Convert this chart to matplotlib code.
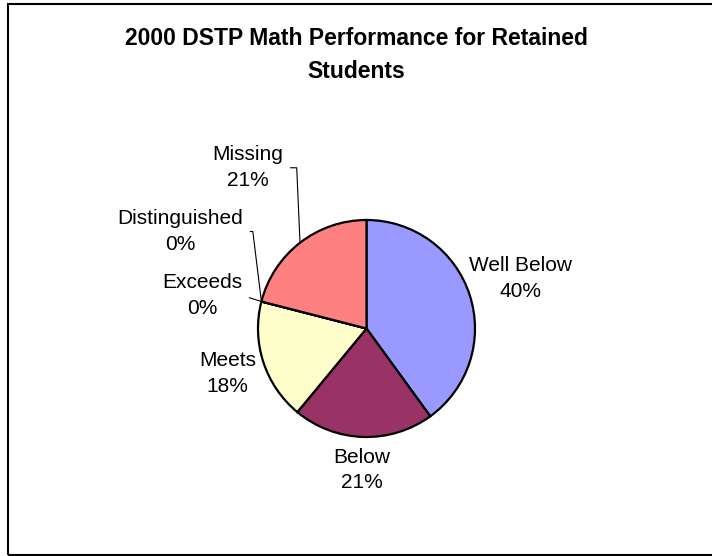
import numpy as np
import matplotlib
matplotlib.use('Agg')
import matplotlib.pyplot as plt
from matplotlib.patches import Rectangle

plt.rcParams['font.family'] = ['Liberation Sans', 'DejaVu Sans']

title = '2000 DSTP Math Performance for Retained\nStudents'
categories = ['Well Below', 'Below', 'Meets', 'Exceeds', 'Distinguished', 'Missing']
percents = [40, 21, 18, 0, 0, 21]
colors = ['#9999FF', '#993366', '#FFFFCC', '#FFFFFF', '#FFFFFF', '#FF8080']

W, H = 712, 556
fig = plt.figure(figsize=(W / 100, H / 100), dpi=100)
ax = fig.add_axes([0, 0, 1, 1])

cx, cy, r = 366.5, H - 328.5, 108.5
wedges, _ = ax.pie(percents, colors=colors, startangle=90, counterclock=False,
                   center=(cx, cy), radius=r, frame=True,
                   wedgeprops=dict(edgecolor='black', linewidth=1.6))
ax.set_xlim(0, W)
ax.set_ylim(0, H)
ax.axis('off')

# label placement: distance factor for plain labels, pixel offsets for leader labels
plain_dist = {'Well Below': 1.49, 'Below': 1.305, 'Meets': 1.345}
leader_off = {'Exceeds': (-59, 6), 'Distinguished': (-81, 70), 'Missing': (-52, 75)}
leader_conn = {'Exceeds': 'arc3,rad=0',
               'Distinguished': 'angle,angleA=0,angleB=97,rad=0',
               'Missing': 'angle,angleA=0,angleB=92.5,rad=0'}

fs = 15
for w, name, p in zip(wedges, categories, percents):
    mid = np.deg2rad((w.theta1 + w.theta2) / 2)
    label = '{}\n{}%'.format(name, p)
    if name in plain_dist:
        d = plain_dist[name] * r
        ax.text(cx + d * np.cos(mid), cy + d * np.sin(mid), label, fontsize=fs,
                ha='center', va='center', multialignment='center', linespacing=1.45)
    else:
        ex, ey = cx + r * np.cos(mid), cy + r * np.sin(mid)
        ox, oy = leader_off[name]
        ax.annotate(label, xy=(ex, ey), xytext=(ox * 0.72, oy * 0.72),
                    textcoords='offset points', fontsize=fs, linespacing=1.45,
                    ha='center', va='center', multialignment='center',
                    arrowprops=dict(arrowstyle='-', color='black', lw=0.8,
                                    relpos=(1, 0.5), shrinkA=3, shrinkB=0,
                                    connectionstyle=leader_conn[name]))

fig.text(356 / W, 1 - 55 / H, title, fontsize=16.5, fontweight='bold',
         ha='center', va='center', multialignment='center', linespacing=1.6)

fig.patches.append(Rectangle((8 / W, 1 / H), 1.2, 1 - 5 / H, transform=fig.transFigure,
                             fill=False, edgecolor='black', linewidth=1.5))

fig.savefig('out.png', dpi=100, facecolor='white')
